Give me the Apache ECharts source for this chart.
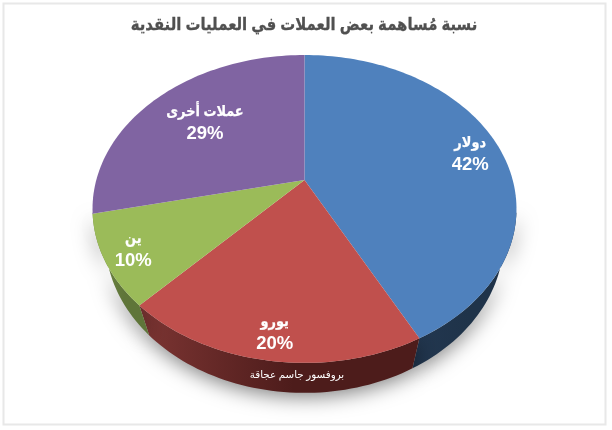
<!DOCTYPE html>
<html><head><meta charset="utf-8">
<style>html,body{margin:0;padding:0;background:#fff}#c{width:612px;height:430px}</style>
<script src="https://cdn.jsdelivr.net/npm/echarts@6/dist/echarts.min.js"></script>
</head><body><div id="c"></div>
<script>
const categories = ['دولار','يورو','ين','عملات أخرى'];
const shares = [42.4, 19.6, 9.5, 28.5];
const titleText = 'نسبة مُساهمة بعض العملات في العمليات النقدية';
const creditText = 'بروفسور جاسم عجاقة';

const topColors = ['#4f81bd','#c0504d','#9bbb59','#8064a2'];
const wallLeft = ['#223750','#7d3533','#728a45','#5c4876'];
const wallRight = ['#1f3349','#4d1c1b','#5f7539','#4a3a60'];
const labelRadius = [0.85,0.87,0.87,0.66];
const labelShift = [2.5,0.5,0,0];

const CX=304.5, APEX_Y=180, A=208.2, B=148.5, K=0.188, DEPTH=30, SHRINK=0.94;
const FONT='"Liberation Sans","DejaVu Sans",sans-serif';
const rad=d=>d*Math.PI/180;
function project(deg,f){
  const u=f*Math.sin(rad(deg)), v=f*Math.cos(rad(deg)), d=1+K*v;
  return [CX+A*u/d, APEX_Y-B*v/d];
}
function lower(p){ return [CX+(p[0]-CX)*SHRINK, p[1]+DEPTH]; }
const total=shares.reduce((a,b)=>a+b,0);
const ranges=[]; (function(){let s=0;shares.forEach(v=>{const e=s+v/total*360;ranges.push([s,e]);s=e;});})();
function arc(a,b){const n=Math.max(2,Math.ceil((b-a)/1.5)),o=[];for(let i=0;i<=n;i++)o.push(project(a+(b-a)*i/n,1));return o;}
const WALL_FROM=102, WALL_TO=258;
const rows=shares.map((v,i)=>[i,v]);

const chart=echarts.init(document.getElementById('c'),null,{renderer:'canvas'});
chart.setOption({
  animation:false,
  backgroundColor:'#fff',
  graphic:[
    {type:'rect',z:0,silent:true,shape:{x:3.5,y:3.5,width:602,height:421},style:{fill:'none',stroke:'#e8e8e8',lineWidth:2}},
    {type:'text',z:6,silent:true,x:304,y:25,scaleX:0.875,style:{text:titleText,align:'center',verticalAlign:'middle',fill:'#505050',stroke:'#505050',lineWidth:0.3,font:'bold 17px '+FONT}}
  ],
  series:[
    {type:'custom',coordinateSystem:'none',z:2,data:rows,silent:true,
     renderItem(p,api){
       const i=api.value(0),a=Math.max(ranges[i][0],WALL_FROM),b=Math.min(ranges[i][1],WALL_TO);
       if(b<=a)return {type:'group',children:[]};
       const up=arc(a,b),lo=up.map(lower).reverse();
       return {type:'polygon',shape:{points:up.concat(lo)},style:{
         fill:new echarts.graphic.LinearGradient(1,0,0,0,[{offset:0,color:wallRight[i]},{offset:0.45,color:wallRight[i]},{offset:1,color:wallLeft[i]}]),
         shadowBlur:20,shadowColor:'rgba(0,0,0,0.5)',shadowOffsetY:4}};
     }},
    {type:'custom',coordinateSystem:'none',z:3,data:rows,silent:true,
     renderItem(p,api){
       const i=api.value(0),[a,b]=ranges[i];
       return {type:'polygon',shape:{points:[project(0,0)].concat(arc(a,b))},style:{fill:topColors[i]}};
     }},
    {type:'custom',coordinateSystem:'none',z:4,data:rows,silent:true,
     renderItem(p,api){
       const i=api.value(0),[a,b]=ranges[i],c=project((a+b)/2,labelRadius[i]);
       const y=c[1]+labelShift[i];
       return {type:'group',children:[
         {type:'text',x:c[0],y:y-11,scaleX:0.86,style:{text:categories[i],align:'center',verticalAlign:'middle',fill:'#fff',stroke:'#fff',lineWidth:0.25,font:'bold 15px '+FONT}},
         {type:'text',x:c[0],y:y+11,style:{text:Math.round(api.value(1))+'%',align:'center',verticalAlign:'middle',fill:'#fff',font:'bold 18.5px '+FONT}}
       ]};
     }},
    {type:'custom',coordinateSystem:'none',z:5,data:[[0]],silent:true,
     renderItem(){
       return {type:'text',x:297,y:375,style:{text:creditText,align:'center',verticalAlign:'middle',fill:'#fff',font:'10.3px "Liberation Serif","DejaVu Sans",serif'}};
     }}
  ]
});
</script></body></html>
